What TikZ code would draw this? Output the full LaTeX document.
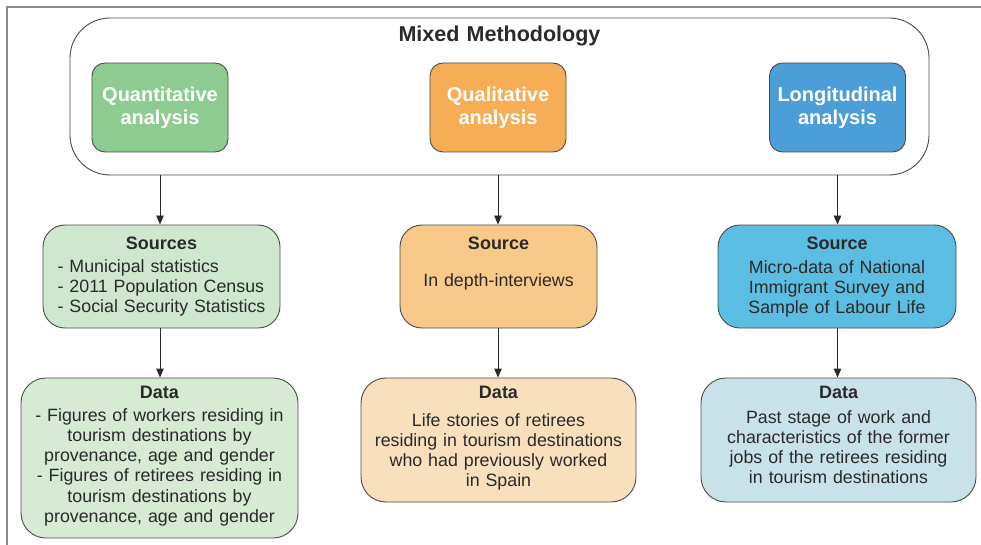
\documentclass[tikz,border=0pt]{standalone}
\usepackage{fontspec}
\setmainfont{Liberation Sans}
\usetikzlibrary{arrows.meta}
\definecolor{txtgray}{HTML}{2A2A2A}
\definecolor{linegray}{HTML}{4A4A4A}
\definecolor{framegray}{HTML}{8C8C8C}
\definecolor{quantgreen}{HTML}{8ECB90}
\definecolor{qualorange}{HTML}{F6AD55}
\definecolor{longblue}{HTML}{4C9ED8}
\definecolor{srcgreen}{HTML}{CFE6CF}
\definecolor{srcorange}{HTML}{F9C98A}
\definecolor{srcblue}{HTML}{5CBDE3}
\definecolor{datagreen}{HTML}{D6EAD4}
\definecolor{dataorange}{HTML}{F8E0BC}
\definecolor{datablue}{HTML}{C9E1E9}
\newcommand{\boxhead}[1]{{\fontsize{18}{20.3}\selectfont\bfseries #1}}
\begin{document}
\begin{tikzpicture}[x=1pt,y=-1pt,
  every node/.style={font=\fontsize{17.8}{20.3}\selectfont,text=txtgray},
  box/.style={draw=linegray,line width=0.9pt,rounded corners=#1,inner sep=0pt,align=center,anchor=base},
  topbox/.style={box=13pt,text width=136pt,text height=39pt,text depth=50pt,
    font=\fontsize{20}{23}\selectfont\bfseries,text=white},
  srcbox/.style={box=22pt,text height=24pt,text depth=79pt},
  databox/.style={box=25pt,text height=20pt},
  arr/.style={draw=txtgray,line width=0.9pt,-{Triangle[length=9pt,width=7.5pt]}}]
\useasboundingbox (0,0) rectangle (981,545);
\draw[framegray,line width=1.5pt] (981,7) -- (7,7) -- (7,545);
\node[box=40pt,text width=859pt,text height=24pt,text depth=133pt,
  font=\fontsize{21.5}{25}\selectfont\bfseries] (mixed) at (499.5,42) {Mixed Methodology};
\node[topbox,fill=quantgreen] (quant) at (160,102) {Quantitative\\analysis};
\node[topbox,fill=qualorange] (qual) at (498,102) {Qualitative\\analysis};
\node[topbox,fill=longblue] (long) at (837.5,102) {Longitudinal\\analysis};
\node[srcbox,fill=srcgreen,text width=237pt] (quantsrc) at (161.5,249)
  {\boxhead{Sources}\\[2.7pt]\begin{tabular}[t]{@{}l@{}}- Municipal statistics\\- 2011 Population Census\\- Social Security Statistics\end{tabular}};
\node[srcbox,fill=srcorange,text width=197pt] (qualsrc) at (498.5,249)
  {\boxhead{Source}\\[17pt]In depth-interviews};
\node[srcbox,fill=srcblue,text width=238pt] (longsrc) at (837,249)
  {\boxhead{Source}\\[3.7pt]Micro-data of National\\Immigrant Survey and\\Sample of Labour Life};
\node[databox,fill=datagreen,text width=277pt,text depth=140pt] (quantdata) at (159.5,398)
  {\boxhead{Data}\\[2.7pt]- Figures of workers residing in\\tourism destinations by\\provenance, age and gender\\- Figures of retirees residing in\\tourism destinations by\\provenance, age and gender};
\node[databox,fill=dataorange,text width=275pt,text depth=104pt] (qualdata) at (498.5,398)
  {\boxhead{Data}\\[7.7pt]Life stories of retirees\\residing in tourism destinations\\who had previously worked\\in Spain};
\node[databox,fill=datablue,text width=275pt,text depth=104pt] (longdata) at (838.5,398)
  {\boxhead{Data}\\[4.7pt]Past stage of work and\\characteristics of the former\\jobs of the retirees residing\\in tourism destinations};
\draw[arr] (quant.south |- mixed.south) -- (quant.south |- quantsrc.north);
\draw[arr] (qual.south |- mixed.south) -- (qual.south |- qualsrc.north);
\draw[arr] (long.south |- mixed.south) -- (long.south |- longsrc.north);
\draw[arr] (quant.south |- quantsrc.south) -- (quant.south |- quantdata.north);
\draw[arr] (qual.south |- qualsrc.south) -- (qual.south |- qualdata.north);
\draw[arr] (long.south |- longsrc.south) -- (long.south |- longdata.north);
\end{tikzpicture}
\end{document}
